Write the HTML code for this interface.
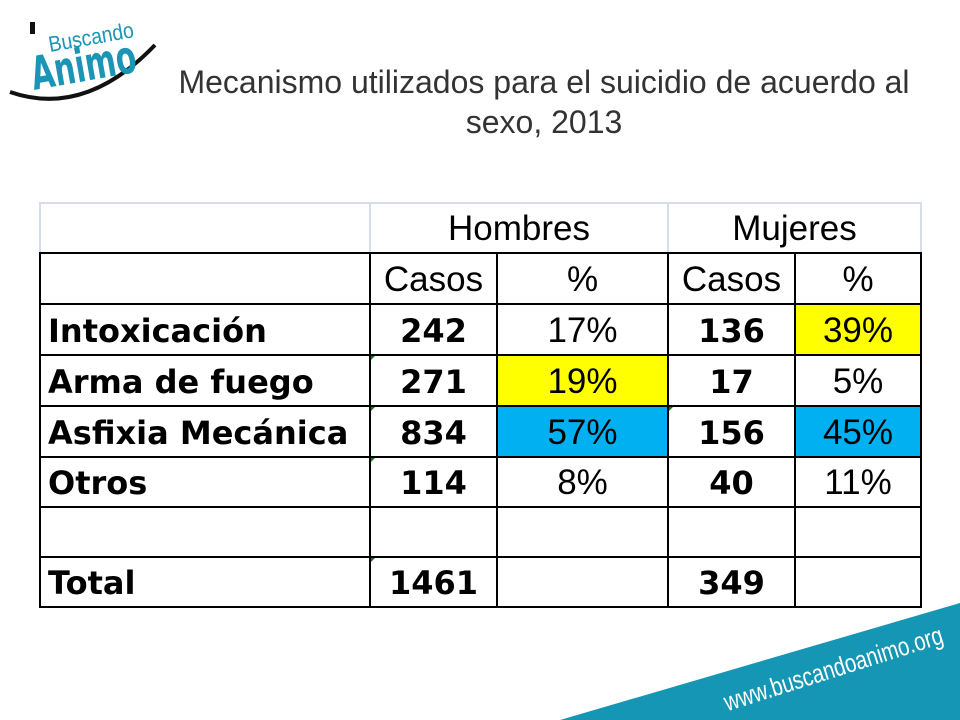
<!DOCTYPE html>
<html><head><meta charset="utf-8">
<style>
body{margin:0;width:960px;height:720px;background:#fff;position:relative;overflow:hidden;font-family:"Liberation Sans",sans-serif;}
.c{position:absolute;box-sizing:border-box;display:flex;align-items:center;justify-content:center;font-size:35px;color:#000;font-family:"Liberation Sans",sans-serif;padding-top:2px;}
.l{justify-content:flex-start;padding-left:7px;}
.b,.l{font-weight:bold;font-family:"DejaVu Sans",sans-serif;font-size:32px;}
.yl{background:#ffff00;}
.bl{background:#00b0f0;}
.tri{position:absolute;width:0;height:0;border-top:4px solid #1a7a1a;border-right:4px solid transparent;}
</style></head>
<body>
<svg style="position:absolute;left:0;top:0" width="170" height="110">
<path d="M10 92 Q85 118 155 45" stroke="#111" stroke-width="4" fill="none"/>
<rect x="30" y="22" width="5" height="12" fill="#111"/>
<text x="50" y="52" font-family="Liberation Sans,sans-serif" font-size="22" fill="#1a95b5" textLength="86" lengthAdjust="spacingAndGlyphs" transform="rotate(-10 50 52)">Buscando</text>
<text x="34" y="90" font-family="DejaVu Sans,sans-serif" font-weight="bold" font-size="46" fill="#1a95b5" textLength="106" lengthAdjust="spacingAndGlyphs" transform="rotate(-10 34 90)">Animo</text>
</svg>
<div style="position:absolute;left:144px;top:62px;width:800px;text-align:center;font-family:'Liberation Sans',sans-serif;font-size:32px;color:#333;line-height:40px;">Mecanismo utilizados para el suicidio de acuerdo al<br>sexo, 2013</div>
<div id="tbl"></div>
<svg style="position:absolute;left:0;top:0" width="960" height="720">
<polygon points="560,720 960,603 960,720" fill="#1596b4"/>
<text x="836" y="677" text-anchor="middle" font-family="Liberation Sans,sans-serif" font-size="26" fill="#fff" textLength="228" lengthAdjust="spacingAndGlyphs" transform="rotate(-17.5 836 677)">www.buscandoanimo.org</text>
</svg>
<script>
const xs=[39,369,496,667,794,920];
const ys=[202,252,303,354,405,456,506,556,606];
const labels=["Intoxicación","Arma de fuego","Asfixia Mecánica","Otros","","Total"];
const hCasos=["242","271","834","114","","1461"];
const hPct=["17%","19%","57%","8%","",""];
const mCasos=["136","17","156","40","","349"];
const mPct=["39%","5%","45%","11%","",""];
const hl={"0,4":"yl","1,2":"yl","2,2":"bl","2,4":"bl"};
const T=document.getElementById('tbl');
function cell(x1,x2,y1,y2,txt,cls,border,name){
 const d=document.createElement('div');
 d.className='c '+(cls||'');
 d.style.left=x1+'px';d.style.top=y1+'px';d.style.width=(x2-x1+2)+'px';d.style.height=(y2-y1+2)+'px';
 d.style.border='2px solid '+border;
 d.textContent=txt;
 
 
 T.appendChild(d);return d;
}
cell(xs[0],xs[1],ys[0],ys[1],'','','#d6dce8','header-blank');
cell(xs[1],xs[3],ys[0],ys[1],'Hombres','','#d6dce8','header-hombres');
cell(xs[3],xs[5],ys[0],ys[1],'Mujeres','','#d6dce8','header-mujeres');
cell(xs[0],xs[1],ys[1],ys[2],'','','#000','subheader-blank');
['Casos','%','Casos','%'].forEach((t,i)=>cell(xs[i+1],xs[i+2],ys[1],ys[2],t,'','#000','subheader-'+i));
for(let r=0;r<labels.length;r++){
 const y1=ys[r+2],y2=ys[r+3];
 const vals=[labels[r],hCasos[r],hPct[r],mCasos[r],mPct[r]];
 for(let c=0;c<5;c++){
  let cls=c==0?'l':(c==1||c==3?'b':'');
  if(hl[r+','+c])cls+=' '+hl[r+','+c];
  const d=cell(xs[c],xs[c+1],y1,y2,vals[c],cls,'#000','cell-r'+r+'-c'+c);
  if((c==1&&r>0&&r!=4)||(c==3&&r==2)){
   const t=document.createElement('div');t.className='tri';t.style.left='0';t.style.top='0';
   
   
   d.appendChild(t);
  }
 }
}
</script>
</body></html>
